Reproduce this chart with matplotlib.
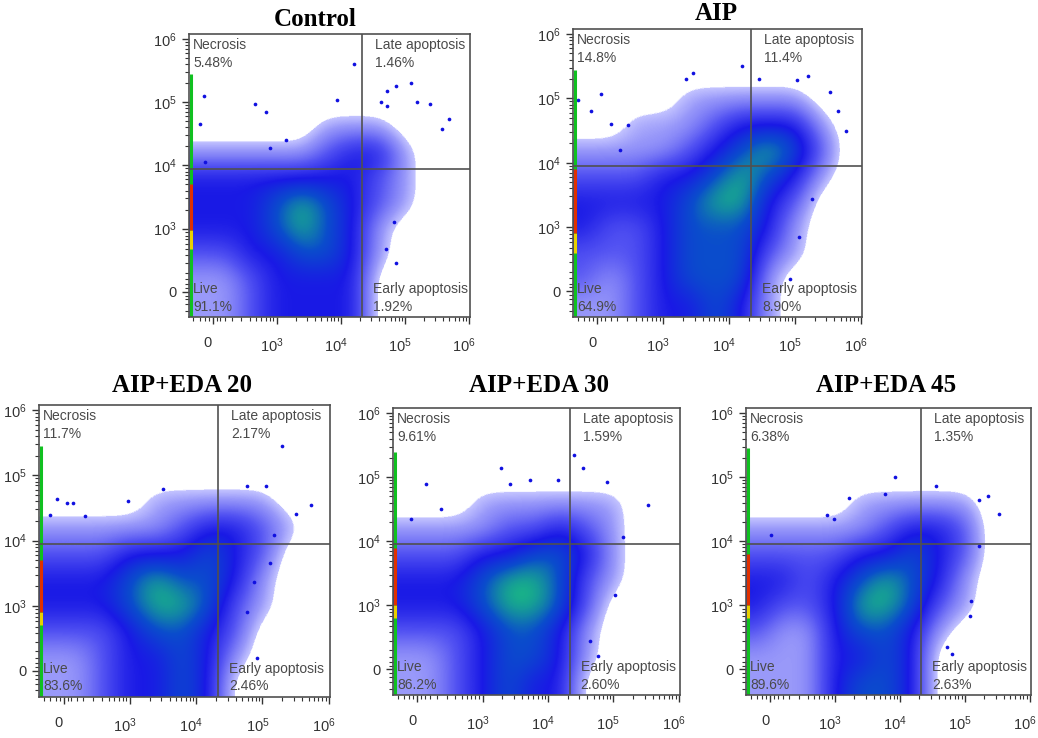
import numpy as np
import matplotlib
matplotlib.use("Agg")
import matplotlib.pyplot as plt
import matplotlib.transforms as mtransforms
from matplotlib.colors import LinearSegmentedColormap

plt.rcParams["font.family"] = ["Liberation Sans", "DejaVu Sans"]
plt.rcParams["mathtext.fontset"] = "custom"
plt.rcParams["mathtext.rm"] = "Liberation Sans"
plt.rcParams["mathtext.it"] = "Liberation Sans"

# ---------------- data ----------------
titles = ["Control", "AIP", "AIP+EDA 20", "AIP+EDA 30", "AIP+EDA 45"]
necrosis_pct = ["5.48%", "14.8%", "11.7%", "9.61%", "6.38%"]
late_pct = ["1.46%", "11.4%", "2.17%", "1.59%", "1.35%"]
live_pct = ["91.1%", "64.9%", "83.6%", "86.2%", "89.6%"]
early_pct = ["1.92%", "8.90%", "2.46%", "2.60%", "2.63%"]

tick_values = [0, 1, 2, 3, 4]
tick_labels = ["0", "$10^3$", "$10^4$", "$10^5$", "$10^6$"]

# event density (display units, 0.4-wide cells, top row first)
grid_lo, grid_hi = -0.4, 4.0
density_control = [
    [0, 0, 0, 0, 0, 0, 0, 0, 0, 0, 0],
    [0, 0, 0, 0, 0, 0, 0, 0, 0, 0, 0],
    [0, 0, 0, 0, 0, 0, 0, 0, 0, 0, 0],
    [0, 0, 0, 0, 0, 1, 1, 1, 0, 0, 0],
    [1, 1, 1, 1, 1, 2, 3, 3, 1, 0, 0],
    [3, 3, 3, 3, 3, 3, 3, 2, 1, 0, 0],
    [3, 3, 3, 4, 5, 4, 3, 2, 1, 0, 0],
    [3, 3, 3, 4, 5, 4, 3, 1, 0, 0, 0],
    [2, 2, 3, 3, 4, 4, 3, 1, 0, 0, 0],
    [1, 1, 2, 3, 3, 3, 3, 0, 0, 0, 0],
    [1, 1, 2, 3, 3, 3, 3, 0, 0, 0, 0],
]
density_aip = [
    [0, 0, 0, 0, 0, 0, 0, 0, 0, 0, 0],
    [0, 0, 0, 0, 0, 0, 0, 0, 0, 0, 0],
    [0, 0, 0, 0, 1, 1, 1, 1, 1, 0, 0],
    [0, 0, 1, 1, 1, 2, 3, 3, 3, 1, 0],
    [1, 1, 1, 1, 2, 3, 4, 5, 4, 2, 0],
    [2, 2, 2, 3, 3, 4, 5, 4, 3, 1, 0],
    [3, 3, 3, 3, 4, 5, 5, 3, 2, 0, 0],
    [3, 2, 2, 3, 4, 4, 4, 3, 1, 0, 0],
    [2, 2, 2, 3, 4, 4, 4, 2, 1, 0, 0],
    [2, 1, 2, 3, 4, 4, 4, 1, 0, 0, 0],
    [1, 1, 2, 3, 3, 4, 3, 1, 0, 0, 0],
]
density_eda20 = [
    [0, 0, 0, 0, 0, 0, 0, 0, 0, 0, 0],
    [0, 0, 0, 0, 0, 0, 0, 0, 0, 0, 0],
    [0, 0, 0, 0, 0, 0, 0, 0, 0, 0, 0],
    [0, 0, 0, 0, 1, 1, 1, 1, 1, 0, 0],
    [1, 1, 1, 1, 1, 2, 3, 3, 2, 1, 0],
    [2, 2, 2, 3, 3, 3, 4, 3, 2, 0, 0],
    [3, 3, 3, 4, 5, 4, 4, 3, 1, 0, 0],
    [3, 3, 3, 4, 5, 5, 4, 2, 1, 0, 0],
    [2, 2, 2, 3, 4, 4, 3, 2, 0, 0, 0],
    [1, 1, 2, 3, 3, 4, 3, 1, 0, 0, 0],
    [1, 1, 2, 3, 3, 4, 3, 0, 0, 0, 0],
]
density_eda30 = [
    [0, 0, 0, 0, 0, 0, 0, 0, 0, 0, 0],
    [0, 0, 0, 0, 0, 0, 0, 0, 0, 0, 0],
    [0, 0, 0, 0, 0, 0, 0, 0, 0, 0, 0],
    [0, 0, 0, 1, 1, 1, 1, 1, 1, 0, 0],
    [1, 1, 1, 1, 2, 2, 3, 2, 1, 0, 0],
    [2, 2, 2, 3, 3, 4, 4, 3, 1, 0, 0],
    [3, 3, 3, 4, 5, 5, 4, 2, 1, 0, 0],
    [3, 3, 3, 4, 5, 5, 4, 2, 0, 0, 0],
    [2, 2, 2, 3, 4, 4, 3, 1, 0, 0, 0],
    [1, 1, 2, 3, 4, 4, 3, 1, 0, 0, 0],
    [1, 1, 2, 3, 4, 3, 3, 0, 0, 0, 0],
]
density_eda45 = [
    [0, 0, 0, 0, 0, 0, 0, 0, 0, 0, 0],
    [0, 0, 0, 0, 0, 0, 0, 0, 0, 0, 0],
    [0, 0, 0, 0, 0, 0, 0, 0, 0, 0, 0],
    [0, 0, 0, 0, 1, 1, 1, 1, 1, 0, 0],
    [1, 1, 1, 1, 1, 2, 3, 3, 2, 0, 0],
    [2, 2, 2, 2, 3, 3, 4, 3, 2, 0, 0],
    [3, 3, 2, 3, 4, 5, 4, 3, 1, 0, 0],
    [3, 2, 2, 3, 5, 5, 4, 2, 1, 0, 0],
    [2, 1, 1, 3, 4, 4, 3, 1, 0, 0, 0],
    [1, 1, 1, 3, 3, 4, 3, 0, 0, 0, 0],
    [1, 1, 1, 3, 4, 4, 3, 0, 0, 0, 0],
]
densities = [density_control, density_aip, density_eda20, density_eda30, density_eda45]

# isolated events outside the main cloud (x, y in display units)
outliers_control_x = [2.2, -0.14, -0.2, 0.66, 0.83, 3.1, 2.86, 2.73, 3.19, 3.4, 3.69, 3.59, 2.63, 2.72, 1.94, -0.12, 0.9, 1.14, 2.7, 2.87, 2.84]
outliers_control_y = [3.6, 3.1, 2.65, 2.97, 2.84, 3.3, 3.25, 3.18, 3.0, 2.97, 2.73, 2.57, 3.0, 2.94, 3.03, 2.06, 2.28, 2.4, 0.68, 0.45, 1.1]
outliers_aip_x = [2.2, 1.46, 1.34, 0.05, -0.3, -0.1, 0.2, 0.47, 3.2, 3.54, 3.77, 3.65, 2.45, 3.03, 3.26, 3.06, 2.92, 0.34]
outliers_aip_y = [3.5, 3.39, 3.3, 3.07, 2.97, 2.8, 2.6, 2.58, 3.35, 3.1, 2.5, 2.8, 3.3, 3.28, 1.44, 0.84, 0.19, 2.2]
outliers_eda20_x = [3.3, 3.74, 3.5, 3.05, 2.77, 2.87, 2.77, 2.92, 1.5, 0.97, -0.1, 0.05, 0.15, -0.21, 0.33, 3.17, 3.12]
outliers_eda20_y = [3.45, 2.55, 2.41, 2.83, 2.83, 1.37, 0.9, 0.2, 2.79, 2.61, 2.64, 2.58, 2.58, 2.4, 2.38, 2.09, 1.66]
outliers_eda30_x = [2.4, 2.53, 1.28, 0.14, 1.42, 1.73, 2.16, 2.9, 3.53, 3.03, 2.64, 2.76, -0.1, 0.37, 3.15]
outliers_eda30_y = [3.35, 3.14, 3.14, 2.9, 2.9, 2.95, 2.95, 2.92, 2.56, 1.16, 0.44, 0.21, 2.35, 2.5, 2.06]
outliers_eda45_x = [1.92, 2.56, 3.35, 3.22, 3.53, 1.21, 1.77, 0.87, 0.98, 0.02, 3.1, 3.08, 3.22, 2.73, 2.8]
outliers_eda45_y = [3.0, 2.87, 2.71, 2.65, 2.43, 2.67, 2.73, 2.41, 2.35, 2.1, 1.06, 0.84, 1.92, 0.35, 0.24]
outliers_x = [outliers_control_x, outliers_aip_x, outliers_eda20_x, outliers_eda30_x, outliers_eda45_x]
outliers_y = [outliers_control_y, outliers_aip_y, outliers_eda20_y, outliers_eda30_y, outliers_eda45_y]

# events piled on the axis minimum (stripe along the left edge)
stripe_top = [3.45, 3.45, 3.45, 3.4, 3.45]
stripe_red = [(0.98, 1.7), (0.9, 1.9), (0.9, 1.7), (1.0, 1.9), (1.0, 1.8)]
stripe_yellow = [(0.67, 0.98), (0.6, 0.9), (0.7, 0.9), (0.8, 1.0), (0.8, 1.0)]

# quadrant gates
gate_x = 2.33
gate_y = 1.95

# ---------------- layout ----------------
W, H = 1038, 738
boxes_px = [(189, 34, 470, 317), (573, 29, 862, 317),
            (39, 405, 330, 697), (393, 408, 680, 695), (746, 408, 1031, 695)]
title_px = [(315, 19), (716, 14), (182, 385), (539, 385), (886, 385)]
xlim = (-0.37, 4.02)
ylim = (-0.40, 4.08)

cmap = LinearSegmentedColormap.from_list("flow", [
    (0.00, (1, 1, 1, 0)),
    (0.11, (1, 1, 1, 0)),
    (0.12, (0.76, 0.76, 1.00, 1)),
    (0.20, (0.60, 0.60, 0.98, 1)),
    (0.40, (0.32, 0.32, 0.95, 1)),
    (0.60, (0.10, 0.10, 0.90, 1)),
    (0.80, (0.04, 0.30, 0.80, 1)),
    (1.00, (0.10, 0.72, 0.52, 1)),
])

minor_ticks = [-0.3, -0.2, -0.12, -0.06, 0.06, 0.12, 0.2, 0.3, 0.45, 0.58, 0.68, 0.76, 0.83, 0.89, 0.95]
for d in range(1, 4):
    minor_ticks += [d + np.log10(k) for k in range(2, 10)]

fig = plt.figure(figsize=(W / 100, H / 100), dpi=100)
xlabel_shift = mtransforms.ScaledTranslation(-5 / 100, 0, fig.dpi_scale_trans)

for i in range(5):
    l, t, r, b = boxes_px[i]
    ax = fig.add_axes([l / W, 1 - b / H, (r - l) / W, (b - t) / H])
    dens = np.array(densities[i], dtype=float)
    ax.imshow(dens, extent=(grid_lo, grid_hi, grid_lo, grid_hi), origin="upper",
              cmap=cmap, vmin=0, vmax=5, interpolation="bicubic",
              interpolation_stage="data", aspect="auto", zorder=1)
    ax.scatter(outliers_x[i], outliers_y[i], s=7, color="#1010e0", linewidths=0, zorder=2)

    x0 = xlim[0] + 0.035
    ax.plot([x0, x0], [ylim[0], stripe_top[i]], color="#10c020", lw=2.2, zorder=3, solid_capstyle="butt")
    ax.plot([x0, x0], stripe_yellow[i], color="#e8d000", lw=2.2, zorder=3, solid_capstyle="butt")
    ax.plot([x0, x0], stripe_red[i], color="#e03000", lw=2.2, zorder=3, solid_capstyle="butt")

    ax.axvline(gate_x, color="#505050", lw=1.2, zorder=4)
    ax.axhline(gate_y, color="#505050", lw=1.2, zorder=4)

    ax.set_xlim(*xlim)
    ax.set_ylim(*ylim)
    ax.set_xticks(tick_values)
    ax.set_xticklabels(tick_labels)
    ax.set_yticks(tick_values)
    ax.set_yticklabels(tick_labels)
    ax.set_xticks(minor_ticks, minor=True)
    ax.set_yticks(minor_ticks, minor=True)
    ax.tick_params(which="major", direction="out", length=5, width=1.0, color="#333333",
                   labelsize=10.5, labelcolor="#333333")
    ax.tick_params(axis="x", which="major", pad=9)
    ax.tick_params(axis="y", which="major", pad=4)
    ax.tick_params(which="minor", direction="out", length=3, width=0.8, color="#333333")
    for lab in ax.get_xticklabels():
        lab.set_transform(lab.get_transform() + xlabel_shift)
    for sp in ax.spines.values():
        sp.set_color("#505050")
        sp.set_linewidth(1.2)
        sp.set_zorder(5)

    txt = dict(fontsize=10, color="#4a4a4a", zorder=6, linespacing=1.3)
    ax.text(0.015, 0.985, "Necrosis\n" + necrosis_pct[i], transform=ax.transAxes,
            ha="left", va="top", **txt)
    ax.text(0.015, 0.012, "Live\n" + live_pct[i], transform=ax.transAxes,
            ha="left", va="bottom", **txt)
    ax.text(gate_x + 0.2, 0.985, "Late apoptosis\n" + late_pct[i],
            transform=ax.get_xaxis_transform(), ha="left", va="top", **txt)
    ax.text(gate_x + 0.17, 0.012, "Early apoptosis\n" + early_pct[i],
            transform=ax.get_xaxis_transform(), ha="left", va="bottom", **txt)

    cx, cy = title_px[i]
    fig.text(cx / W, 1 - cy / H, titles[i], ha="center", va="center",
             fontsize=18, fontweight="bold", family=["Liberation Serif", "DejaVu Serif"])

fig.savefig("out.png", dpi=100)
